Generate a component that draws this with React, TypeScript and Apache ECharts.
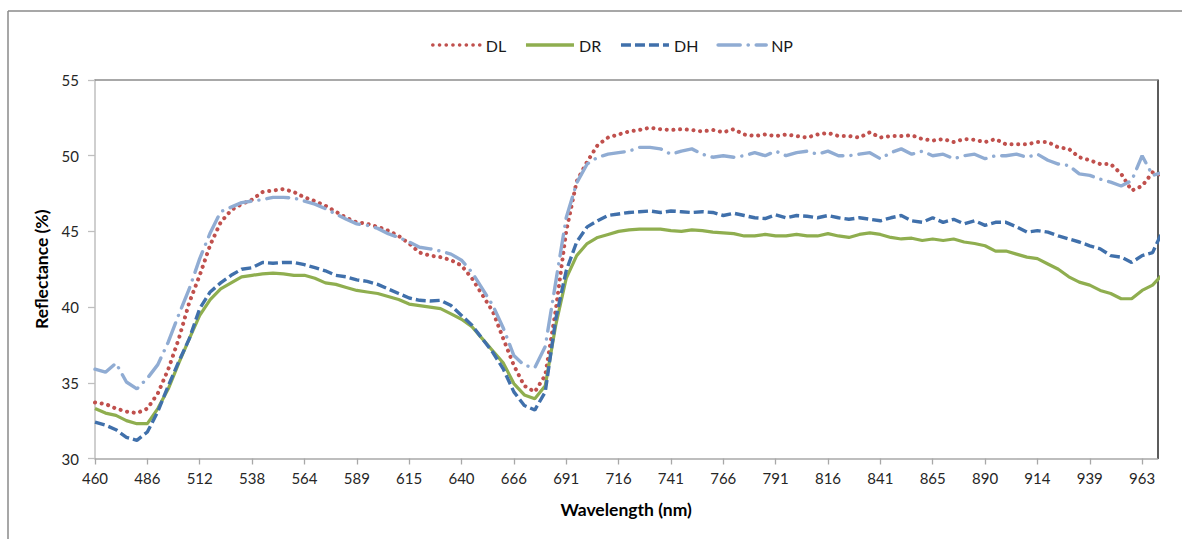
import React, { useEffect, useRef } from 'react';
import * as echarts from 'echarts';

// Wavelength (nm) of each sampled channel
const wavelengths = [
  460, 465.2, 470.4, 475.6, 480.8, 486, 491.2, 496.4, 501.6, 506.8,
  512, 517.2, 522.4, 527.6, 532.8, 538, 543.2, 548.4, 553.6, 558.8,
  564, 569, 574, 579, 584, 589, 594.2, 599.4, 604.6, 609.8,
  615, 620, 625, 630, 635, 640, 645.2, 650.4, 655.6, 660.8,
  666, 671, 676, 681, 686, 691, 696, 701, 706, 711,
  716, 721, 726, 731, 736, 741, 746, 751, 756, 761,
  766, 771, 776, 781, 786, 791, 796, 801, 806, 811,
  816, 821, 826, 831, 836, 841, 845.8, 850.6, 855.4, 860.2,
  865, 870, 875, 880, 885, 890, 894.8, 899.6, 904.4, 909.2,
  914, 919, 924, 929, 934, 939, 943.8, 948.6, 953.4, 958.2,
  963, 967.8, 972.6,
];

const tickLabels = [
  '460', '486', '512', '538', '564', '589', '615', '640', '666', '691', '716',
  '741', '766', '791', '816', '841', '865', '890', '914', '939', '963',
];

const DL = [
  33.7, 33.6, 33.3, 33.1, 33.0, 33.3, 34.3, 35.9, 37.9, 40.3,
  42.1, 44.1, 45.6, 46.4, 46.8, 47.1, 47.6, 47.7, 47.8, 47.6,
  47.25, 47.0, 46.7, 46.3, 45.9, 45.6, 45.5, 45.3, 45.05, 44.7,
  44.2, 43.6, 43.4, 43.3, 43.1, 42.75, 41.9, 40.8, 39.7, 37.9,
  36.15, 34.8, 34.4, 35.5, 39.8, 45.0, 48.3, 49.6, 50.7, 51.2,
  51.4, 51.6, 51.7, 51.85, 51.75, 51.7, 51.75, 51.7, 51.6, 51.7,
  51.55, 51.75, 51.4, 51.3, 51.4, 51.3, 51.4, 51.3, 51.2, 51.4,
  51.5, 51.3, 51.3, 51.2, 51.55, 51.2, 51.3, 51.3, 51.35, 51.1,
  51.0, 51.1, 50.9, 51.1, 51.05, 50.9, 51.1, 50.75, 50.75, 50.75,
  50.9, 50.9, 50.55, 50.45, 49.9, 49.7, 49.45, 49.45, 48.8, 47.7,
  48.0, 48.9, 48.7,
];

const DR = [
  33.3, 33.0, 32.85, 32.5, 32.3, 32.3, 33.3, 34.6, 36.3, 37.9,
  39.45, 40.5, 41.2, 41.6, 42.0, 42.1, 42.2, 42.25, 42.2, 42.1,
  42.1, 41.9, 41.6, 41.5, 41.3, 41.1, 41.0, 40.9, 40.7, 40.5,
  40.2, 40.1, 40.0, 39.9, 39.55, 39.2, 38.7, 37.9, 37.1, 36.3,
  34.95, 34.2, 33.95, 34.8, 38.8, 41.9, 43.4, 44.2, 44.6, 44.8,
  45.0, 45.1, 45.15, 45.15, 45.15, 45.05, 45.0, 45.1, 45.05, 44.95,
  44.9, 44.85, 44.7, 44.7, 44.8, 44.7, 44.7, 44.8, 44.7, 44.7,
  44.85, 44.7, 44.6, 44.8, 44.9, 44.8, 44.6, 44.5, 44.55, 44.4,
  44.5, 44.4, 44.5, 44.3, 44.2, 44.05, 43.7, 43.7, 43.5, 43.3,
  43.2, 42.85, 42.5, 42.0, 41.65, 41.45, 41.1, 40.9, 40.55, 40.55,
  41.1, 41.45, 42.2,
];

const DH = [
  32.4, 32.2, 31.9, 31.4, 31.2, 31.75, 33.1, 34.8, 36.4, 37.9,
  39.9, 41.0, 41.6, 42.1, 42.5, 42.6, 42.95, 42.9, 42.95, 42.95,
  42.8, 42.6, 42.4, 42.1, 42.0, 41.8, 41.7, 41.5, 41.2, 40.9,
  40.6, 40.45, 40.4, 40.45, 40.1, 39.45, 38.8, 37.9, 37.0, 35.9,
  34.4, 33.5, 33.2, 34.4, 39.2, 42.4, 44.3, 45.3, 45.7, 46.05,
  46.15, 46.25, 46.3, 46.35, 46.25, 46.35, 46.3, 46.25, 46.3, 46.25,
  46.05, 46.2, 46.05, 45.9, 45.85, 46.1, 45.9, 46.05, 46.0, 45.9,
  46.05, 45.9, 45.8, 45.9, 45.8, 45.7, 45.9, 46.05, 45.7, 45.6,
  45.9, 45.6, 45.8, 45.5, 45.7, 45.4, 45.6, 45.6, 45.3, 44.95,
  45.05, 44.95, 44.7, 44.5, 44.3, 44.05, 43.85, 43.4, 43.3, 42.95,
  43.4, 43.6, 45.1,
];

const NP = [
  35.9, 35.7, 36.3, 35.05, 34.6, 35.3, 36.2, 37.7, 39.5, 41.2,
  43.2, 44.9, 46.3, 46.6, 46.9, 47.0, 47.1, 47.25, 47.25, 47.2,
  47.0, 46.8, 46.5, 46.15, 45.8, 45.5, 45.4, 45.2, 44.85, 44.6,
  44.3, 43.95, 43.85, 43.7, 43.5, 43.1, 42.3, 41.2, 40.1, 38.6,
  36.8, 36.15, 36.0, 37.4, 41.65, 45.9, 48.2, 49.45, 49.9, 50.1,
  50.2, 50.3, 50.55, 50.55, 50.45, 50.1, 50.3, 50.45, 50.1, 49.9,
  50.0, 49.9, 50.0, 50.2, 50.0, 50.3, 50.0, 50.2, 50.3, 50.1,
  50.3, 50.0, 50.0, 50.1, 50.2, 49.8, 50.2, 50.45, 50.1, 50.3,
  50.0, 50.1, 49.8, 50.0, 50.1, 49.8, 50.0, 50.0, 50.1, 49.9,
  50.1, 49.7, 49.45, 49.35, 48.8, 48.7, 48.45, 48.25, 48.0, 48.35,
  50.0, 48.7, 48.9,
];

const FONT = 'Lato';
const X_MAX = 101.45; // axis ends a little past the 963 nm channel
const tickIdx = tickLabels.map((_, i) => i * 5);

export default function App() {
  const ref = useRef<HTMLDivElement>(null);

  useEffect(() => {
    if (!ref.current) return;
    const chart = echarts.init(ref.current, null, { renderer: 'svg' });
    const toPts = (arr: number[]) => arr.map((v, i) => [i, v, wavelengths[i]]);
    const labelFmt = (v: number) => {
      const k = Math.round(v);
      if (Math.abs(v - k) > 1e-6 || k % 5 !== 0) return '';
      return tickLabels[k / 5] ?? '';
    };

    chart.setOption({
      animation: false,
      backgroundColor: '#ffffff',
      textStyle: { fontFamily: FONT },
      graphic: [
        { type: 'line', shape: { x1: 8, y1: 11, x2: 1182, y2: 11 }, style: { stroke: '#8a8a8a', lineWidth: 1.5 } },
        { type: 'line', shape: { x1: 8, y1: 11, x2: 8, y2: 539 }, style: { stroke: '#8a8a8a', lineWidth: 1.5 } },
      ],
      legend: {
        data: ['DL', 'DR', 'DH', 'NP'],
        left: 426,
        top: 32,
        itemWidth: 48,
        itemHeight: 14,
        itemGap: 18,
        itemStyle: { opacity: 0 },
        lineStyle: { width: 3.6 },
        textStyle: { fontFamily: FONT, fontSize: 16, color: '#1a1a1a' },
      },
      grid: { left: 95, right: 24.7, top: 80, bottom: 80.5, containLabel: false },
      xAxis: [
        {
          type: 'value',
          min: 0,
          max: X_MAX,
          interval: 5,
          position: 'bottom',
          axisLine: { show: true, onZero: false, lineStyle: { color: '#a8a8a8', width: 1.5 } },
          axisTick: { show: true, length: 6, customValues: tickIdx, lineStyle: { color: '#a8a8a8', width: 1.3 } },
          axisLabel: { customValues: tickIdx, formatter: labelFmt, color: '#262626', fontSize: 15, margin: 12, fontFamily: FONT },
          splitLine: { show: false },
          name: 'Wavelength (nm)',
          nameLocation: 'middle',
          nameGap: 42,
          nameTextStyle: { fontWeight: 'bold', fontSize: 17.5, color: '#000', fontFamily: FONT },
        },
        {
          type: 'value',
          min: 0,
          max: X_MAX,
          interval: 5,
          position: 'top',
          axisLine: { show: true, onZero: false, lineStyle: { color: '#8c8c8c', width: 1.5 } },
          axisTick: { show: false },
          axisLabel: { show: false },
          splitLine: { show: false },
        },
      ],
      yAxis: [
        {
          type: 'value',
          min: 30,
          max: 55,
          interval: 5,
          position: 'left',
          axisLine: { show: true, onZero: false, lineStyle: { color: '#bfbfbf', width: 1.5 } },
          axisTick: { show: true, length: 7, lineStyle: { color: '#bfbfbf', width: 1.3 } },
          axisLabel: { color: '#262626', fontSize: 15, margin: 16, fontFamily: FONT },
          splitLine: { show: false },
          name: 'Reflectance (%)',
          nameLocation: 'middle',
          nameGap: 44,
          nameTextStyle: { fontWeight: 'bold', fontSize: 17.5, color: '#000', fontFamily: FONT },
        },
        {
          type: 'value',
          min: 30,
          max: 55,
          interval: 5,
          position: 'right',
          axisLine: { show: true, onZero: false, lineStyle: { color: '#262626', width: 1.5 } },
          axisTick: { show: false },
          axisLabel: { show: false },
          splitLine: { show: false },
        },
      ],
      series: [
        {
          name: 'DL',
          type: 'line',
          symbol: 'none',
          clip: true,
          data: toPts(DL),
          itemStyle: { color: '#c0504d' },
          lineStyle: { color: '#c0504d', width: 4, type: [0.1, 6.6], cap: 'round' },
        },
        {
          name: 'DR',
          type: 'line',
          symbol: 'none',
          clip: true,
          data: toPts(DR),
          itemStyle: { color: '#8fae4f' },
          lineStyle: { color: '#8fae4f', width: 3.2, type: 'solid' },
        },
        {
          name: 'DH',
          type: 'line',
          symbol: 'none',
          clip: true,
          data: toPts(DH),
          itemStyle: { color: '#4070ab' },
          lineStyle: { color: '#4070ab', width: 3.4, type: [10, 4] },
        },
        {
          name: 'NP',
          type: 'line',
          symbol: 'none',
          clip: true,
          data: toPts(NP),
          itemStyle: { color: '#90acd3' },
          lineStyle: { color: '#90acd3', width: 3.4, type: [22, 8, 0.1, 8], cap: 'round' },
        },
      ],
    });

    return () => chart.dispose();
  }, []);

  return (
    <div
      ref={ref}
      style={{ position: 'absolute', left: 0, top: 0, width: 1182, height: 539 }}
    />
  );
}
